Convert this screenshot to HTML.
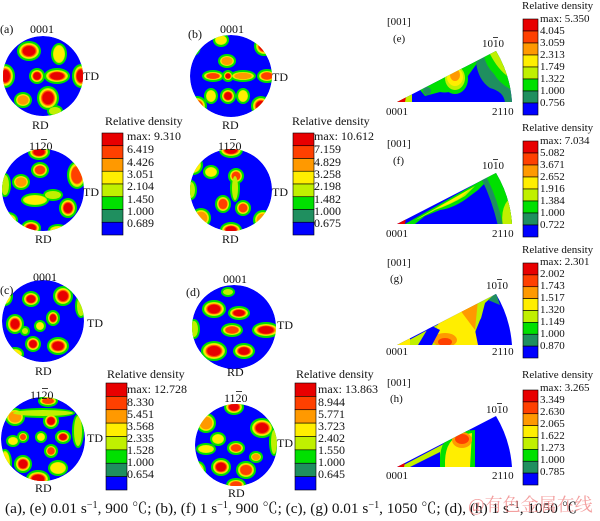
<!DOCTYPE html>
<html><head><meta charset="utf-8"><style>
body{margin:0;background:#fff}
svg{display:block}
text{font-family:"Liberation Serif","Noto Serif CJK SC",serif;fill:#111}
</style></head><body>
<svg id="s" width="600" height="521" viewBox="0 0 600 521" xmlns="http://www.w3.org/2000/svg">
<defs>
<clipPath id="ca1"><circle cx="43" cy="76" r="40"/></clipPath>
<clipPath id="ca2"><circle cx="43" cy="190" r="41"/></clipPath>
<clipPath id="cb1"><circle cx="231" cy="76" r="41"/></clipPath>
<clipPath id="cb2"><circle cx="231" cy="190" r="41"/></clipPath>
<clipPath id="cc1"><circle cx="43" cy="321" r="41"/></clipPath>
<clipPath id="cc2"><circle cx="43" cy="439" r="42"/></clipPath>
<clipPath id="cd1"><circle cx="234" cy="327" r="42"/></clipPath>
<clipPath id="cd2"><circle cx="236" cy="445" r="41"/></clipPath>
<clipPath id="te"><path d="M397 102 L512 102 A115 115 0 0 0 496 51 Z"/></clipPath>
<clipPath id="tf"><path d="M397 224 L512 224 A115 115 0 0 0 496 173 Z"/></clipPath>
<clipPath id="tg"><path d="M397 345 L512 345 A115 115 0 0 0 496 294 Z"/></clipPath>
<clipPath id="th"><path d="M397 467 L512 467 A115 115 0 0 0 496 416 Z"/></clipPath>
</defs>
<g id="g"></g>
<g font-size="12">
<text x="0" y="33">(a)</text><text x="30" y="33">0001</text><text x="83" y="80">TD</text><text x="32" y="129">RD</text>
<text x="29" y="150">1120</text><rect x="41" y="139" width="6" height="0.8" fill="#111"/><text x="83" y="196">TD</text><text x="35" y="243">RD</text>
<text x="188" y="38">(b)</text><text x="220" y="33">0001</text><text x="272" y="81">TD</text><text x="222" y="129">RD</text>
<text x="218" y="150">1120</text><rect x="230" y="139" width="6" height="0.8" fill="#111"/><text x="272" y="196">TD</text><text x="222" y="243">RD</text>
<text x="0" y="294">(c)</text><text x="33" y="281">0001</text><text x="87" y="327">TD</text><text x="35" y="375">RD</text>
<text x="30" y="399">1120</text><rect x="42" y="388" width="6" height="0.8" fill="#111"/><text x="87" y="442">TD</text><text x="35" y="492">RD</text>
<text x="186" y="296">(d)</text><text x="223" y="283">0001</text><text x="277" y="329">TD</text><text x="227" y="376">RD</text>
<text x="224" y="402">1120</text><rect x="236" y="391" width="6" height="0.8" fill="#111"/><text x="277" y="447">TD</text><text x="228" y="497">RD</text>

<text x="105" y="125">Relative density</text>
<text x="127" y="140">max: 9.310</text><text x="127" y="153">6.419</text><text x="127" y="166">4.426</text><text x="127" y="178">3.051</text><text x="127" y="190">2.104</text><text x="127" y="203">1.450</text><text x="127" y="215">1.000</text><text x="127" y="227">0.689</text>
<text x="292" y="125">Relative density</text>
<text x="314" y="140">max: 10.612</text><text x="314" y="153">7.159</text><text x="314" y="166">4.829</text><text x="314" y="178">3.258</text><text x="314" y="190">2.198</text><text x="314" y="203">1.482</text><text x="314" y="215">1.000</text><text x="314" y="227">0.675</text>
<text x="107" y="378">Relative density</text>
<text x="127" y="393">max: 12.728</text><text x="127" y="406">8.330</text><text x="127" y="418">5.451</text><text x="127" y="430">3.568</text><text x="127" y="442">2.335</text><text x="127" y="454">1.528</text><text x="127" y="466">1.000</text><text x="127" y="478">0.654</text>
<text x="296" y="378">Relative density</text>
<text x="318" y="393">max: 13.863</text><text x="318" y="406">8.944</text><text x="318" y="418">5.771</text><text x="318" y="430">3.723</text><text x="318" y="442">2.402</text><text x="318" y="454">1.550</text><text x="318" y="466">1.000</text><text x="318" y="478">0.645</text>
</g>
<g font-size="11">
<text x="522" y="9">Relative density</text>
<text x="540" y="22">max: 5.350</text><text x="540" y="34">4.045</text><text x="540" y="46">3.059</text><text x="540" y="58">2.313</text><text x="540" y="70">1.749</text><text x="540" y="82">1.322</text><text x="540" y="94">1.000</text><text x="540" y="106">0.756</text>
<text x="387" y="25">[001]</text><text x="393" y="42">(e)</text><text x="482" y="47">1010</text><rect x="493" y="37" width="5" height="0.8" fill="#111"/><text x="386" y="115">0001</text><text x="492" y="115">2110</text>
<text x="522" y="131">Relative density</text>
<text x="540" y="144">max: 7.034</text><text x="540" y="156">5.082</text><text x="540" y="168">3.671</text><text x="540" y="180">2.652</text><text x="540" y="192">1.916</text><text x="540" y="204">1.384</text><text x="540" y="216">1.000</text><text x="540" y="228">0.722</text>
<text x="387" y="147">[001]</text><text x="393" y="164">(f)</text><text x="482" y="169">1010</text><rect x="493" y="159" width="5" height="0.8" fill="#111"/><text x="386" y="237">0001</text><text x="492" y="237">2110</text>
<text x="522" y="253">Relative density</text>
<text x="540" y="265">max: 2.301</text><text x="540" y="277">2.002</text><text x="540" y="289">1.743</text><text x="540" y="301">1.517</text><text x="540" y="313">1.320</text><text x="540" y="325">1.149</text><text x="540" y="337">1.000</text><text x="540" y="349">0.870</text>
<text x="387" y="266">[001]</text><text x="390" y="282">(g)</text><text x="486" y="289">1010</text><rect x="497" y="279" width="5" height="0.8" fill="#111"/><text x="386" y="355">0001</text><text x="492" y="355">2110</text>
<text x="522" y="378">Relative density</text>
<text x="540" y="391">max: 3.265</text><text x="540" y="403">3.349</text><text x="540" y="415">2.630</text><text x="540" y="427">2.065</text><text x="540" y="439">1.622</text><text x="540" y="451">1.273</text><text x="540" y="463">1.000</text><text x="540" y="475">0.785</text>
<text x="387" y="386">[001]</text><text x="390" y="402">(h)</text><text x="486" y="413">1010</text><rect x="497" y="403" width="5" height="0.8" fill="#111"/><text x="386" y="479">0001</text><text x="492" y="479">2110</text>
</g>
<text x="5" y="513" font-size="15" textLength="572" lengthAdjust="spacingAndGlyphs">(a), (e) 0.01  s<tspan dy="-5" font-size="10">−1</tspan><tspan dy="5">, 900 ℃; (b), (f) 1 s</tspan><tspan dy="-5" font-size="10">−1</tspan><tspan dy="5">, 900 ℃; (c), (g) 0.01 s</tspan><tspan dy="-5" font-size="10">−1</tspan><tspan dy="5">, 1050 ℃; (d), (h) 1 s</tspan><tspan dy="-5" font-size="10">−1</tspan><tspan dy="5">, 1050 ℃</tspan></text>
<text x="468" y="511" font-size="18" style="fill:#f08080;opacity:.75">@有色金属在线</text>
</svg>
<script>
const C=['#0000ff','#1f8f5f','#00e000','#c0f000','#ffee00','#ff9900','#ff4000','#e80000'];
const G=document.getElementById('g');let h='';
function bar(x,y,w,hh){const s=hh/8;for(let i=0;i<8;i++){h+=`<rect x="${x}" y="${y+i*s}" width="${w}" height="${s}" fill="${C[7-i]}" stroke="#000" stroke-width="0.6"/>`;}}
function blob(cx,cy,rx,ry,l){h+=`<ellipse cx="${cx}" cy="${cy}" rx="${rx}" ry="${ry}" fill="${C[3]}"/>`;
 if(l>=2)h+=`<ellipse cx="${cx}" cy="${cy}" rx="${rx*.9}" ry="${ry*.9}" fill="${C[4]}"/>`;
 if(l>=3)h+=`<ellipse cx="${cx}" cy="${cy}" rx="${rx*.8}" ry="${ry*.8}" fill="${C[5]}"/>`;
 if(l>=4)h+=`<ellipse cx="${cx}" cy="${cy}" rx="${rx*.72}" ry="${ry*.72}" fill="${C[6]}"/>`;
 if(l>=5)h+=`<ellipse cx="${cx}" cy="${cy}" rx="${rx*.62}" ry="${ry*.62}" fill="${C[7]}"/>`;}
function pf(id,cx,cy,r,bl){h+=`<g clip-path="url(#${id})"><circle cx="${cx}" cy="${cy}" r="${r}" fill="${C[0]}"/>`;
 bl.forEach(b=>{h+=`<ellipse cx="${cx+b[0]}" cy="${cy+b[1]}" rx="${b[2]+2}" ry="${b[3]+2}" fill="${C[2]}"/>`;});
 bl.forEach(b=>blob(cx+b[0],cy+b[1],b[2],b[3],b[4]));h+=`</g>`;}
pf('ca1',43,76,40,[[-14,-25,10,8,5],[-38,0,8,10,5],[-6,0,6,6,5],[14,0,11,6,5],[38,0,7,10,5],[-20,24,7,6,3],[5,22,9,10,5],[16,-22,6,9,2],[12,35,6,4,1]]);
pf('ca2',43,190,41,[[-4,-38,9,6,5],[-3,-20,7,6,4],[-22,-8,7,6,3],[-8,10,12,5,2],[10,5,8,4,1],[34,-15,8,12,4],[-38,-5,4,10,1],[25,18,7,8,5],[-35,30,8,6,2],[-12,38,8,6,5],[15,40,8,4,2]]);
pf('cb1',231,76,41,[[33,-30,8,8,5],[-4,-15,7,5,3],[-18,0,9,4,4],[-3,0,4,4,5],[12,0,11,4,3],[36,0,8,5,4],[-3,20,6,6,5],[-20,20,5,6,2],[12,20,5,6,2],[-38,-30,6,8,2],[-34,30,8,8,4],[30,30,8,8,5],[-10,-36,6,5,2]]);
pf('cb2',231,190,41,[[0,-40,10,6,5],[-20,-18,6,5,2],[5,-14,6,6,4],[-8,14,6,7,4],[12,18,6,6,4],[4,-2,3,12,1],[0,40,9,6,5],[-38,-25,8,8,2],[-30,28,8,8,3],[32,30,8,8,3],[-40,0,4,8,1]]);
pf('cc1',43,321,41,[[-12,-22,7,6,5],[20,-25,8,8,5],[-28,3,7,8,5],[10,-3,5,6,5],[-3,5,4,4,2],[-18,10,3,3,1],[-10,23,6,6,5],[15,25,9,7,5],[-28,33,7,5,2],[-38,-25,6,8,2],[38,-15,4,10,1]]);
pf('cc2',43,439,42,[[-28,-22,8,7,3],[5,-38,8,4,4],[8,-18,6,6,5],[-20,-2,4,4,4],[-2,-2,4,4,2],[20,-2,6,5,5],[-30,2,5,4,2],[8,12,5,5,4],[-20,25,7,7,5],[15,29,8,6,2],[-5,40,10,7,5],[0,-26,30,3,1],[-38,24,5,12,2],[35,-8,4,15,1]]);
pf('cd1',234,327,42,[[-20,-18,10,7,5],[5,-14,9,5,5],[-2,3,9,5,4],[32,3,12,6,5],[-20,24,11,8,5],[10,24,9,6,5],[-40,2,4,8,1],[-6,-35,5,3,1]]);
pf('cd2',236,445,41,[[-2,-38,8,6,5],[-30,-22,8,8,3],[26,-17,10,8,5],[-18,-6,6,5,2],[-30,4,8,4,2],[0,3,7,5,4],[20,12,5,4,3],[-15,22,8,7,5],[10,25,8,7,4],[0,40,8,5,4],[-38,26,6,8,2],[38,-3,3,12,1]]);
bar(102,133,21,102);bar(293,133,21,102);bar(106,383,21,107);bar(295,383,21,107);
bar(523,19,15,96);bar(523,141,15,96);bar(523,263,15,95);bar(523,390,15,95);
function tri(id,y,parts){h+=`<g clip-path="url(#${id})"><rect x="390" y="${y-60}" width="130" height="62" fill="${C[0]}"/>${parts}</g>`;}
tri('te',102,`<path d="M420 90 L496 50 L478 62 L465 80 Q455 95 440 92 L425 96Z" fill="${C[2]}"/>
<ellipse cx="455" cy="79" rx="13" ry="15" fill="${C[2]}"/><ellipse cx="455" cy="78" rx="10" ry="12" fill="${C[3]}"/><ellipse cx="455" cy="77" rx="8" ry="9" fill="${C[4]}"/><ellipse cx="455" cy="75" rx="5" ry="6" fill="${C[5]}"/>
<path d="M476 62 L496 50 L520 50 L520 104 L505 104 Q505 92 490 88 Q478 80 476 62Z" fill="${C[1]}"/>
<path d="M484 56 L496 50 L520 50 L520 90 L512 90 Q500 84 494 74 Q486 66 484 56Z" fill="${C[2]}"/>
<path d="M490 54 L496 50 L520 50 L520 80 L510 78 Q498 70 490 54Z" fill="${C[3]}"/>
<circle cx="427" cy="91" r="4" fill="${C[1]}"/><path d="M395 102 L412 94 L412 102Z" fill="${C[3]}"/><path d="M395 102 L406 97 L405 102Z" fill="${C[7]}"/>`);
tri('tf',224,`<path d="M405 224 L496 172 L478 190 L470 196 Q455 208 440 210 L425 216 L415 224Z" fill="${C[2]}"/>
<path d="M415 220 L475 186 L465 196 Q450 205 435 210 L420 218Z" fill="${C[3]}"/>
<path d="M430 212 L470 189 L460 198 Q448 205 436 209Z" fill="${C[4]}"/>
<path d="M482 180 L496 172 L520 172 L520 226 L498 226 Q492 200 482 180Z" fill="${C[1]}"/>
<path d="M487 178 L496 172 L520 172 L520 226 L503 226 Q498 200 487 178Z" fill="${C[2]}"/>
<path d="M503 226 Q500 210 508 200 L520 200 L520 226Z" fill="${C[3]}"/>
<path d="M395 224 L406 218 L405 224Z" fill="${C[7]}"/>`);
tri('tg',345,`<path d="M400 345 L496 293 L480 320 L470 345Z" fill="${C[3]}"/><path d="M440 345 Q430 325 448 315 L470 305 L478 345Z" fill="${C[4]}"/><ellipse cx="445" cy="340" rx="12" ry="7" fill="${C[5]}"/><ellipse cx="445" cy="342" rx="7" ry="4" fill="${C[6]}"/><path d="M460 310 L478 300 L475 330Z" fill="${C[5]}"/><path d="M418 345 L430 325 L440 330 L432 345Z" fill="${C[0]}"/><path d="M485 303 L496 293 L505 320 L482 345 L478 330Z" fill="${C[0]}"/><path d="M488 300 L496 293 L500 305Z" fill="${C[1]}"/><path d="M395 345 L410 338 L410 345Z" fill="${C[4]}"/>`);
tri('th',467,`<path d="M400 467 L470 430 L475 467Z" fill="${C[3]}"/><path d="M440 467 Q438 440 455 432 L475 430 L475 467Z" fill="${C[2]}"/><path d="M445 467 Q444 442 458 436 L472 433 L470 467Z" fill="${C[4]}"/><ellipse cx="462" cy="440" rx="10" ry="8" fill="${C[5]}"/><ellipse cx="462" cy="439" rx="7" ry="5" fill="${C[6]}"/><path d="M410 467 L440 452 L440 467Z" fill="${C[0]}"/><path d="M395 467 L405 462 L404 467Z" fill="${C[7]}"/>`);
G.innerHTML=h;
</script>
</body></html>
